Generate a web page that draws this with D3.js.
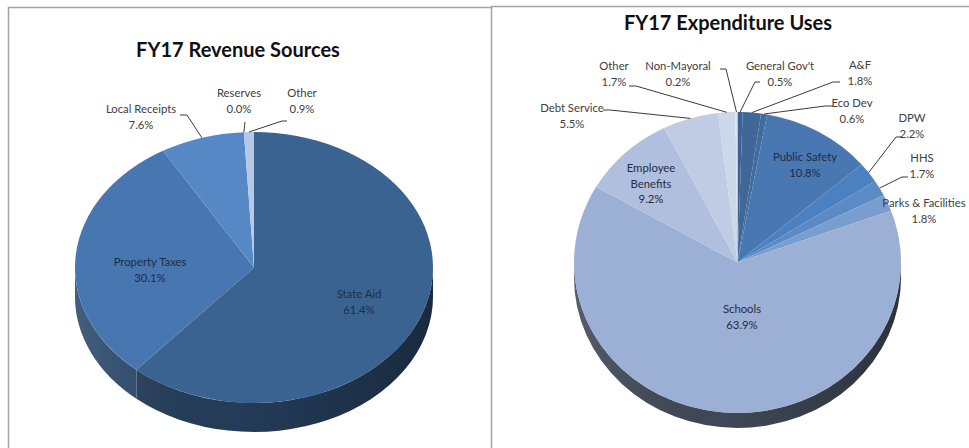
<!DOCTYPE html>
<html lang="en">
<head>
	<meta charset="utf-8">
	<title>FY17 Revenue and Expenditure</title>
	<script src="https://d3js.org/d3.v7.min.js"></script>
	<style>
		body { margin: 0; background: #fff; }
		text { font-family: Lato, "Open Sans", sans-serif; }
		.title { font-size: 20px; font-weight: bold; fill: #111; }
		.lbl { font-size: 11.3px; fill: #404040; }
		.lbl-in { font-size: 11.3px; fill: #1f2c45; }
	</style>
</head>
<body>
<div id="chart"></div>
<script>
	// Revenue data (percent of total)
	var revenueLabels = ["State Aid", "Property Taxes", "Local Receipts", "Reserves", "Other"];
	var revenueValues = [61.4, 30.1, 7.6, 0.0, 0.9];

	// Expenditure data (percent of total)
	var expenseLabels = ["General Gov't", "A&F", "Eco Dev", "Public Safety", "DPW", "HHS",
		"Parks & Facilities", "Schools", "Employee Benefits", "Debt Service", "Other", "Non-Mayoral"];
	var expenseValues = [0.5, 1.8, 0.6, 10.8, 2.2, 1.7, 1.8, 63.9, 9.2, 5.5, 1.7, 0.2];

	// colours for each slice
	var revenueColors = ["#3b6392", "#4876b0", "#5688c5", "#c8d4ea", "#b7c8e6"];
	var expenseColors = ["#3c6393", "#3f6797", "#426c9e", "#4977b1", "#4b80c1", "#5b8ac6",
		"#799dcf", "#9bb0d4", "#afbfdd", "#bfcce4", "#ccd7ea", "#d8e0ee"];

	// where Excel put each label: inside ones just have x,y; outside ones get a leader
	var revenueLayout = [
		{ x: 359, y: 298, inside: true },
		{ x: 150, y: 266, inside: true },
		{ x: 141, y: 113, start: [180, 115], elbow: [187, 115] },
		{ x: 239, y: 97, start: [245, 122], elbow: [245, 122] },
		{ x: 302, y: 97, start: [287, 121], elbow: [282, 121] }
	];
	var expenseLayout = [
		{ x: 780, y: 70, start: [760, 82], elbow: [755, 82] },
		{ x: 860, y: 69, start: [840, 82], elbow: [833, 82] },
		{ x: 852, y: 107, start: [833, 106], elbow: [825, 106] },
		{ x: 805, y: 161, inside: true },
		{ x: 912, y: 122, start: [902, 137], elbow: [896, 137] },
		{ x: 922, y: 162, start: [908, 177], elbow: [902, 177] },
		{ x: 924, y: 207 },
		{ x: 742, y: 313, inside: true },
		{ x: 651, y: 172, inside: true, wrap: true },
		{ x: 572, y: 112, start: [603, 110], elbow: [610, 110] },
		{ x: 614, y: 70, start: [629, 86], elbow: [636, 86] },
		{ x: 678, y: 70, start: [720, 69], elbow: [726, 69] }
	];

	var w = 969, h = 448;
	var fmt = d3.format(".1f");

	var svg = d3.select("#chart").append("svg")
		.attr("width", w)
		.attr("height", h);

	svg.append("rect").attr("width", w).attr("height", h).attr("fill", "#fff");

	// shading for the side walls, lighter on the left
	var grad = svg.append("defs").append("linearGradient")
		.attr("id", "sideShade")
		.attr("x1", 0).attr("x2", 1).attr("y1", 0).attr("y2", 0);
	grad.append("stop").attr("offset", 0).attr("stop-color", "#fff").attr("stop-opacity", 0.12);
	grad.append("stop").attr("offset", 0.45).attr("stop-color", "#000").attr("stop-opacity", 0);
	grad.append("stop").attr("offset", 1).attr("stop-color", "#000").attr("stop-opacity", 0.3);

	// panel borders
	svg.append("path")
		.attr("d", "M8.5," + h + "V7.5H491")
		.attr("fill", "none").attr("stroke", "#a3a3a3").attr("stroke-width", 1.5);
	svg.append("path")
		.attr("d", "M491.5," + h + "V6.5H" + w)
		.attr("fill", "none").attr("stroke", "#a3a3a3").attr("stroke-width", 1.5);

	function wallPath(a0, a1, rx, dd) {
		var t0 = a0 - Math.PI / 2;
		var t1 = a1 - Math.PI / 2;
		var p = d3.path();
		p.moveTo(rx * Math.cos(t0), rx * Math.sin(t0));
		p.arc(0, 0, rx, t0, t1, false);
		p.lineTo(rx * Math.cos(t1), rx * Math.sin(t1) + dd);
		p.arc(0, dd, rx, t1, t0, true);
		p.closePath();
		return p.toString();
	}

	function drawPie(opts) {
		var pie = d3.pie().sort(null).value(function(d) { return d.value; });
		var data = opts.labels.map(function(l, i) {
			return { name: l, value: opts.values[i], color: opts.colors[i], lay: opts.layout[i] };
		});
		var arcs = pie(data);
		var rx = opts.rx, ry = opts.ry;
		var dd = opts.depth * rx / ry; // depth in the scaled space

		var g = svg.append("g")
			.attr("transform", "translate(" + opts.cx + "," + opts.cy + ") scale(1," + (ry / rx) + ")");

		// side wall, only the front half is visible
		var sides = arcs.filter(function(a) {
			return Math.min(a.endAngle, 1.5 * Math.PI) > Math.max(a.startAngle, 0.5 * Math.PI);
		});
		g.selectAll("path.side")
			.data(sides)
			.enter()
			.append("path")
			.attr("class", "side")
			.attr("d", function(a) {
				return wallPath(Math.max(a.startAngle, 0.5 * Math.PI), Math.min(a.endAngle, 1.5 * Math.PI), rx, dd);
			})
			.attr("fill", function(a) { return d3.color(a.data.color).darker(opts.sideDark); });

		g.append("path")
			.attr("d", wallPath(0.5 * Math.PI, 1.5 * Math.PI, rx, dd))
			.attr("fill", "url(#sideShade)");

		// top face
		var arc = d3.arc().innerRadius(0).outerRadius(rx);
		g.selectAll("path.top")
			.data(arcs)
			.enter()
			.append("path")
			.attr("class", "top")
			.attr("d", arc)
			.attr("fill", function(a) { return a.data.color; });

		// labels
		arcs.forEach(function(a) {
			var lay = a.data.lay;
			var lines = lay.wrap ? a.data.name.split(" ") : [a.data.name];
			lines.push(fmt(a.data.value) + "%");
			var t = svg.append("text")
				.attr("class", lay.inside ? "lbl-in" : "lbl")
				.attr("text-anchor", "middle");
			lines.forEach(function(s, i) {
				t.append("tspan").attr("x", lay.x).attr("y", lay.y + i * 15.5).text(s);
			});
			if (lay.start) {
				var mid = (a.startAngle + a.endAngle) / 2;
				var ex = opts.cx + rx * Math.sin(mid);
				var ey = opts.cy - ry * Math.cos(mid);
				svg.append("polyline")
					.attr("points", [lay.start, lay.elbow, [ex, ey]].map(function(p) { return p.join(","); }).join(" "))
					.attr("fill", "none")
					.attr("stroke", "#3a3a3a")
					.attr("stroke-width", 1);
			}
		});

		svg.append("text")
			.attr("class", "title")
			.attr("x", opts.titleX)
			.attr("y", opts.titleY)
			.attr("text-anchor", "middle")
			.text(opts.title);
	}

	drawPie({
		title: "FY17 Revenue Sources", titleX: 238, titleY: 57,
		labels: revenueLabels, values: revenueValues, colors: revenueColors, layout: revenueLayout,
		cx: 254, cy: 267.5, rx: 179, ry: 135.5, depth: 29, sideDark: 1.4
	});

	drawPie({
		title: "FY17 Expenditure Uses", titleX: 728, titleY: 30,
		labels: expenseLabels, values: expenseValues, colors: expenseColors, layout: expenseLayout,
		cx: 737.5, cy: 262.5, rx: 163.5, ry: 150.5, depth: 15, sideDark: 2.5
	});
</script>
</body>
</html>
